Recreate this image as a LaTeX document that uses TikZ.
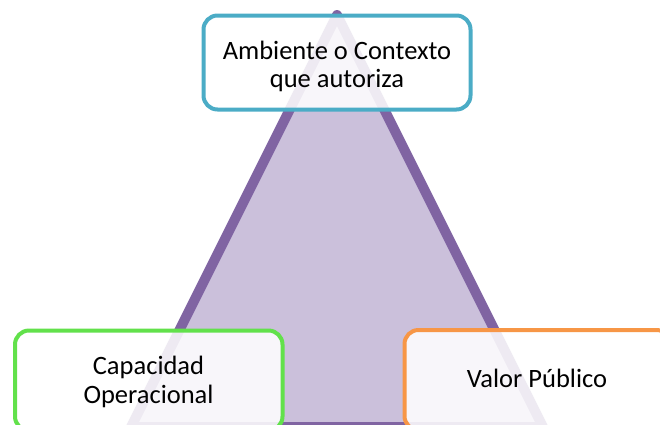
\documentclass[tikz,border=0pt]{standalone}
\usepackage{fontspec}
\setmainfont{Carlito}
\definecolor{triline}{HTML}{8064A2}
\definecolor{trifill}{HTML}{CBC0DB}
\definecolor{boxcyan}{HTML}{4BACC6}
\definecolor{boxgreen}{HTML}{62E14B}
\definecolor{boxorange}{HTML}{F79646}
\tikzset{
  conceptbox/.style={draw, line width=4pt, rounded corners=14pt, fill=white, fill opacity=0.87, text opacity=1, align=center, inner sep=0pt, font=\fontsize{26.5}{28.5}\selectfont, text=black}
}
\begin{document}
\begin{tikzpicture}[x=1pt,y=-1pt]
\useasboundingbox (0,0) rectangle (660,424);
\begin{scope}
\clip (0,0) rectangle (660,424);
\coordinate (apex) at (337,15);
\coordinate (bl) at (131,427);
\coordinate (br) at (543,427);
\draw[line width=10pt, line join=round, draw=triline, fill=trifill] (apex) -- (br) -- (bl) -- cycle;
\node[conceptbox, draw=boxcyan, minimum width=267pt, minimum height=94pt] (ctx) at (337,62.5) {};
\node[conceptbox, draw=boxgreen, minimum width=267.5pt, minimum height=100pt] (cap) at (148.75,380.5) {};
\node[conceptbox, draw=boxorange, minimum width=266pt, minimum height=100pt] (val) at (537.5,380) {};
\node[conceptbox, draw=none, fill=none, anchor=center] (ctxt) at (337,66.5) {Ambiente o Contexto\\que autoriza};
\node[conceptbox, draw=none, fill=none, anchor=center] (capt) at (148.5,382) {Capacidad\\Operacional};
\node[conceptbox, draw=none, fill=none, anchor=base] (valt) at (537,387.5) {Valor Público};
\end{scope}
\end{tikzpicture}
\end{document}
